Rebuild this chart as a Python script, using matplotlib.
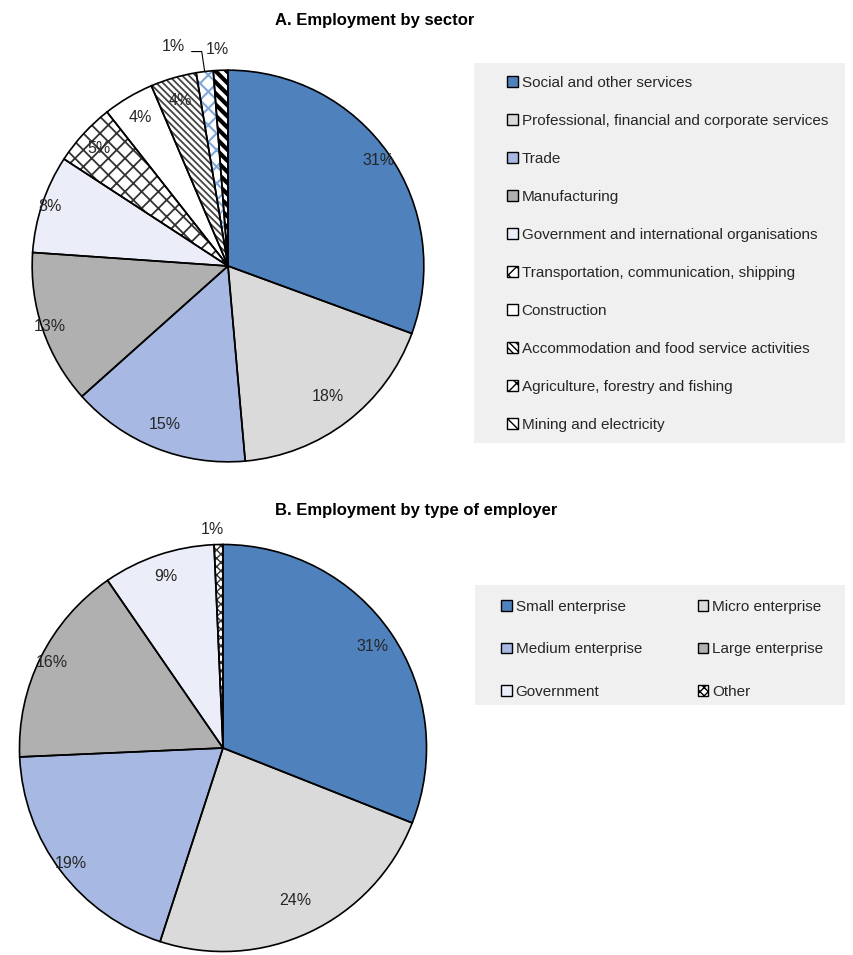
import matplotlib
matplotlib.use("Agg")
import matplotlib.pyplot as plt
import numpy as np
from matplotlib.patches import Patch, Rectangle
from matplotlib import font_manager

# ── data ──────────────────────────────────────────────────────────────────────
sector_labels = [
    "Social and other services",
    "Professional, financial and corporate services",
    "Trade",
    "Manufacturing",
    "Government and international organisations",
    "Transportation, communication, shipping",
    "Construction",
    "Accommodation and food service activities",
    "Agriculture, forestry and fishing",
    "Mining and electricity",
]
sector_share = [30.6, 18.0, 14.8, 12.7, 8.1, 5.2, 4.2, 3.8, 1.4, 1.2]

employer_labels = [
    "Small enterprise", "Micro enterprise", "Medium enterprise",
    "Large enterprise", "Government", "Other",
]
employer_share = [31.0, 24.0, 19.3, 16.1, 8.9, 0.7]

# ── styles ────────────────────────────────────────────────────────────────────
sector_fill = ["#4F81BD", "#DADADA", "#A7B9E3", "#B0B0B0", "#EBEEF8",
               "white", "white", "white", "white", "white"]
sector_hatch = [None, None, None, None, None, "xx", None, "\\\\\\\\\\", "xx", "\\\\\\"]
sector_hcol = ["black"] * 5 + ["#333333", "black", "#444444", "#7FA7DA", "black"]
sector_hlw = [1.0] * 5 + [1.3, 1.0, 1.3, 1.5, 3.0]
sector_lab_r = [0.94, 0.84, 0.87, 0.96, 0.96, 0.89, 0.88, 0.88, None, None]

employer_fill = ["#4F81BD", "#DADADA", "#A7B9E3", "#B0B0B0", "#EBEEF8", "white"]
employer_hatch = [None, None, None, None, None, "xxxx"]
employer_hcol = ["black"] * 5 + ["#333333"]
employer_hlw = [1.0] * 6
employer_lab_r = [0.89, 0.83, 0.94, 0.94, 0.89, None]

W, H, DPI = 854, 955, 100
names = {f.name for f in font_manager.fontManager.ttflist}
FONT = "Liberation Sans" if "Liberation Sans" in names else "DejaVu Sans"
plt.rcParams["font.family"] = FONT
TXT = "#262626"
PCT_SIZE = 11.5

fig = plt.figure(figsize=(W / DPI, H / DPI), dpi=DPI)


def pie_axes(cx, cy, r, m=1.2):
    # square axes in pixel units, pie radius 1 in data units
    side = 2 * m * r
    ax = fig.add_axes([(cx - m * r) / W, 1 - (cy + m * r) / H, side / W, side / H])
    ax.set_xlim(-m, m)
    ax.set_ylim(-m, m)
    ax.set_aspect("equal")
    ax.axis("off")
    return ax


def draw_pie(ax, values, fills, hatches, hcols, hlws, lab_r):
    wedges, _ = ax.pie(values, colors=fills, startangle=90, counterclock=False,
                       radius=1.0, wedgeprops=dict(linewidth=0))
    for w, h, hc, lw in zip(wedges, hatches, hcols, hlws):
        w.set_clip_on(False)
        if h:
            w.set_hatch(h)
            w.set_edgecolor(hc)
            try:
                w.set_hatch_linewidth(lw)
            except AttributeError:
                pass
    outline, _ = ax.pie(values, colors=["none"] * len(values), startangle=90,
                        counterclock=False, radius=1.0,
                        wedgeprops=dict(edgecolor="black", linewidth=1.2, fill=False))
    for w in outline:
        w.set_clip_on(False)

    total = sum(values)
    mids = []
    cum = 0.0
    for v, r in zip(values, lab_r):
        mid = np.deg2rad(90 - 360 * (cum + v / 2) / total)
        mids.append(mid)
        if r is not None:
            ax.text(r * np.cos(mid), r * np.sin(mid), f"{v:.0f}%", ha="center",
                    va="center", fontsize=PCT_SIZE, color=TXT)
        cum += v
    return mids


# ── panel A ───────────────────────────────────────────────────────────────────
axA = pie_axes(228, 266, 204)
midsA = draw_pie(axA, sector_share, sector_fill, sector_hatch, sector_hcol,
                 sector_hlw, sector_lab_r)
# small slices labelled outside, first one with a leader line
axA.text(-0.28, 1.12, f"{sector_share[8]:.0f}%", ha="center", va="center",
         fontsize=PCT_SIZE, color=TXT)
axA.text(-0.055, 1.105, f"{sector_share[9]:.0f}%", ha="center", va="center",
         fontsize=PCT_SIZE, color=TXT)
ex, ey = np.cos(midsA[8]), np.sin(midsA[8])
axA.plot([-0.185, ex - 0.015, ex], [1.095, 1.095, ey], color="black", lw=0.8,
         clip_on=False)
fig.text(375 / W, 1 - 20 / H, "A. Employment by sector", ha="center",
         va="center", fontsize=12, fontweight="bold", color="black")

# ── panel B ───────────────────────────────────────────────────────────────────
axB = pie_axes(223, 748, 212)
midsB = draw_pie(axB, employer_share, employer_fill, employer_hatch,
                 employer_hcol, employer_hlw, employer_lab_r)
axB.text(-0.05, 1.075, f"{employer_share[5]:.0f}%", ha="center", va="center",
         fontsize=PCT_SIZE, color=TXT)
fig.text(416 / W, 1 - 510 / H, "B. Employment by type of employer", ha="center",
         va="center", fontsize=12, fontweight="bold", color="black")


# ── legends ───────────────────────────────────────────────────────────────────
def handles(labels, fills, hatches, hcols, order=None):
    out = []
    for lab, f, h, hc in zip(labels, fills, hatches, hcols):
        out.append(Patch(facecolor=f, edgecolor="black", hatch=h, linewidth=1.0,
                         label=lab))
    if order:
        out = [out[i] for i in order]
    return out


def box(x0, y0, x1, y1):
    fig.patches.append(Rectangle((x0 / W, 1 - y1 / H), (x1 - x0) / W, (y1 - y0) / H,
                                 transform=fig.transFigure, facecolor="#F0F0F0",
                                 edgecolor="none", zorder=0))


box(474, 63, 845, 443)
fig.legend(handles=handles(sector_labels, sector_fill, sector_hatch, sector_hcol),
           loc="upper left", bbox_to_anchor=(507 / W, 1 - 76 / H), frameon=False,
           fontsize=11, handlelength=0.7, handleheight=0.7, handletextpad=0.25,
           labelspacing=1.57, borderpad=0, borderaxespad=0, labelcolor=TXT)

box(475, 585, 845, 705)
# legend fills column by column; reorder so entries read row by row
fig.legend(handles=handles(employer_labels, employer_fill, employer_hatch,
                           employer_hcol, order=[0, 2, 4, 1, 3, 5]),
           loc="upper left", bbox_to_anchor=(501 / W, 1 - 600 / H), frameon=False,
           ncol=2, fontsize=11, handlelength=0.7, handleheight=0.7,
           handletextpad=0.25, labelspacing=1.85, columnspacing=3.65, borderpad=0,
           borderaxespad=0, labelcolor=TXT)

fig.savefig("out.png", dpi=DPI)
